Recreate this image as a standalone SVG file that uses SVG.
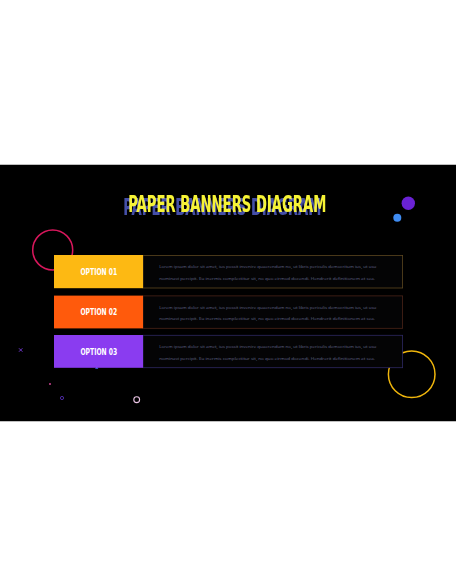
<svg xmlns="http://www.w3.org/2000/svg" width="456" height="586" viewBox="0 0 456 586">
<style>
.opt{font-family:"DejaVu Sans Condensed","Liberation Sans",sans-serif;font-weight:bold;font-size:9.5px;fill:#ffffff;text-anchor:middle}
.body{font-family:"Open Sans","Liberation Sans",sans-serif;font-size:4.3px;fill:#62668a}
.title{font-family:"DejaVu Sans Condensed","Liberation Sans",sans-serif;font-weight:bold;font-size:23px}
.panel{fill:#040405;stroke-width:0.8}
</style>
<defs>
<filter id="shadow" x="-10%" y="-30%" width="120%" height="160%">
<feFlood flood-color="#4450a8" result="c"/>
<feComposite in="c" in2="SourceAlpha" operator="in" result="s"/>
<feOffset in="s" dx="-5" dy="3" result="o"/>
<feMerge><feMergeNode in="o"/><feMergeNode in="SourceGraphic"/></feMerge>
</filter>
</defs>
<rect x="0" y="0" width="456" height="586" fill="#ffffff"/>
<rect x="0" y="164.75" width="456" height="256.5" fill="#000000"/>
<g id="title">
<text class="title" x="128.3" y="212.3" fill="#f6f336" filter="url(#shadow)" textLength="198" lengthAdjust="spacingAndGlyphs">PAPER BANNERS DIAGRAM</text>
</g>
<g id="decor">
<circle cx="408.3" cy="203.3" r="6.7" fill="#6a22d4"/>
<circle cx="397.3" cy="217.7" r="4" fill="#3f8cf2"/>
<circle cx="52.7" cy="250" r="20" fill="none" stroke="#d8175c" stroke-width="1.5"/>
<circle cx="411.7" cy="374.3" r="23.3" fill="none" stroke="#f0b60c" stroke-width="1.5"/>
<path d="M19 348.3 L22.4 351.7 M22.4 348.3 L19 351.7" stroke="#7a3de0" stroke-width="0.9"/>
<polygon points="65,361.8 66.6,364.4 63.4,364.4" fill="#4a6ef0"/>
<polygon points="96.7,366.2 98.3,368.8 95.1,368.8" fill="#4a6ef0"/>
<circle cx="50" cy="384" r="0.9" fill="#e04aa0"/>
<circle cx="62" cy="398" r="1.6" fill="none" stroke="#6a3ae0" stroke-width="0.7"/>
<circle cx="136.7" cy="399.7" r="2.9" fill="none" stroke="#ecc6e6" stroke-width="1.1"/>
</g>
<g id="row1">
<rect class="panel" x="143" y="255.4" width="259.6" height="32.6" stroke="#5c4720"/>
<rect x="54" y="255" width="89" height="33.2" fill="#fdb913"/>
<text class="opt" x="98.8" y="275" textLength="36.7" lengthAdjust="spacingAndGlyphs">OPTION 01</text>
<text class="body" x="159.3" y="268.2" textLength="217" lengthAdjust="spacingAndGlyphs">Lorem ipsum dolor sit amet, ius possit invenire quaerendum no, ut libris periculis democritum ius, ut usu</text>
<text class="body" x="159.3" y="279.8" textLength="215.7" lengthAdjust="spacingAndGlyphs">nominavi percipit. Eu inermis complectitur sit, no quo eirmod docendi. Hendrerit definitionem at sea.</text>
</g>
<g id="row2">
<rect class="panel" x="143" y="295.9" width="259.6" height="32.4" stroke="#4a2418"/>
<rect x="54" y="295.6" width="89" height="32.8" fill="#ff5a0c"/>
<text class="opt" x="98.8" y="315.4" textLength="36.7" lengthAdjust="spacingAndGlyphs">OPTION 02</text>
<text class="body" x="159.3" y="308.5" textLength="217" lengthAdjust="spacingAndGlyphs">Lorem ipsum dolor sit amet, ius possit invenire quaerendum no, ut libris periculis democritum ius, ut usu</text>
<text class="body" x="159.3" y="320.1" textLength="215.7" lengthAdjust="spacingAndGlyphs">nominavi percipit. Eu inermis complectitur sit, no quo eirmod docendi. Hendrerit definitionem at sea.</text>
</g>
<g id="row3">
<rect class="panel" x="143" y="335.3" width="259.6" height="32.4" stroke="#2e2862"/>
<rect x="54" y="335" width="89" height="32.8" fill="#8a3cf0"/>
<text class="opt" x="98.8" y="355" textLength="36.7" lengthAdjust="spacingAndGlyphs">OPTION 03</text>
<text class="body" x="159.3" y="348" textLength="217" lengthAdjust="spacingAndGlyphs">Lorem ipsum dolor sit amet, ius possit invenire quaerendum no, ut libris periculis democritum ius, ut usu</text>
<text class="body" x="159.3" y="359.6" textLength="215.7" lengthAdjust="spacingAndGlyphs">nominavi percipit. Eu inermis complectitur sit, no quo eirmod docendi. Hendrerit definitionem at sea.</text>
</g>
<g id="connectors"></g>
</svg>
